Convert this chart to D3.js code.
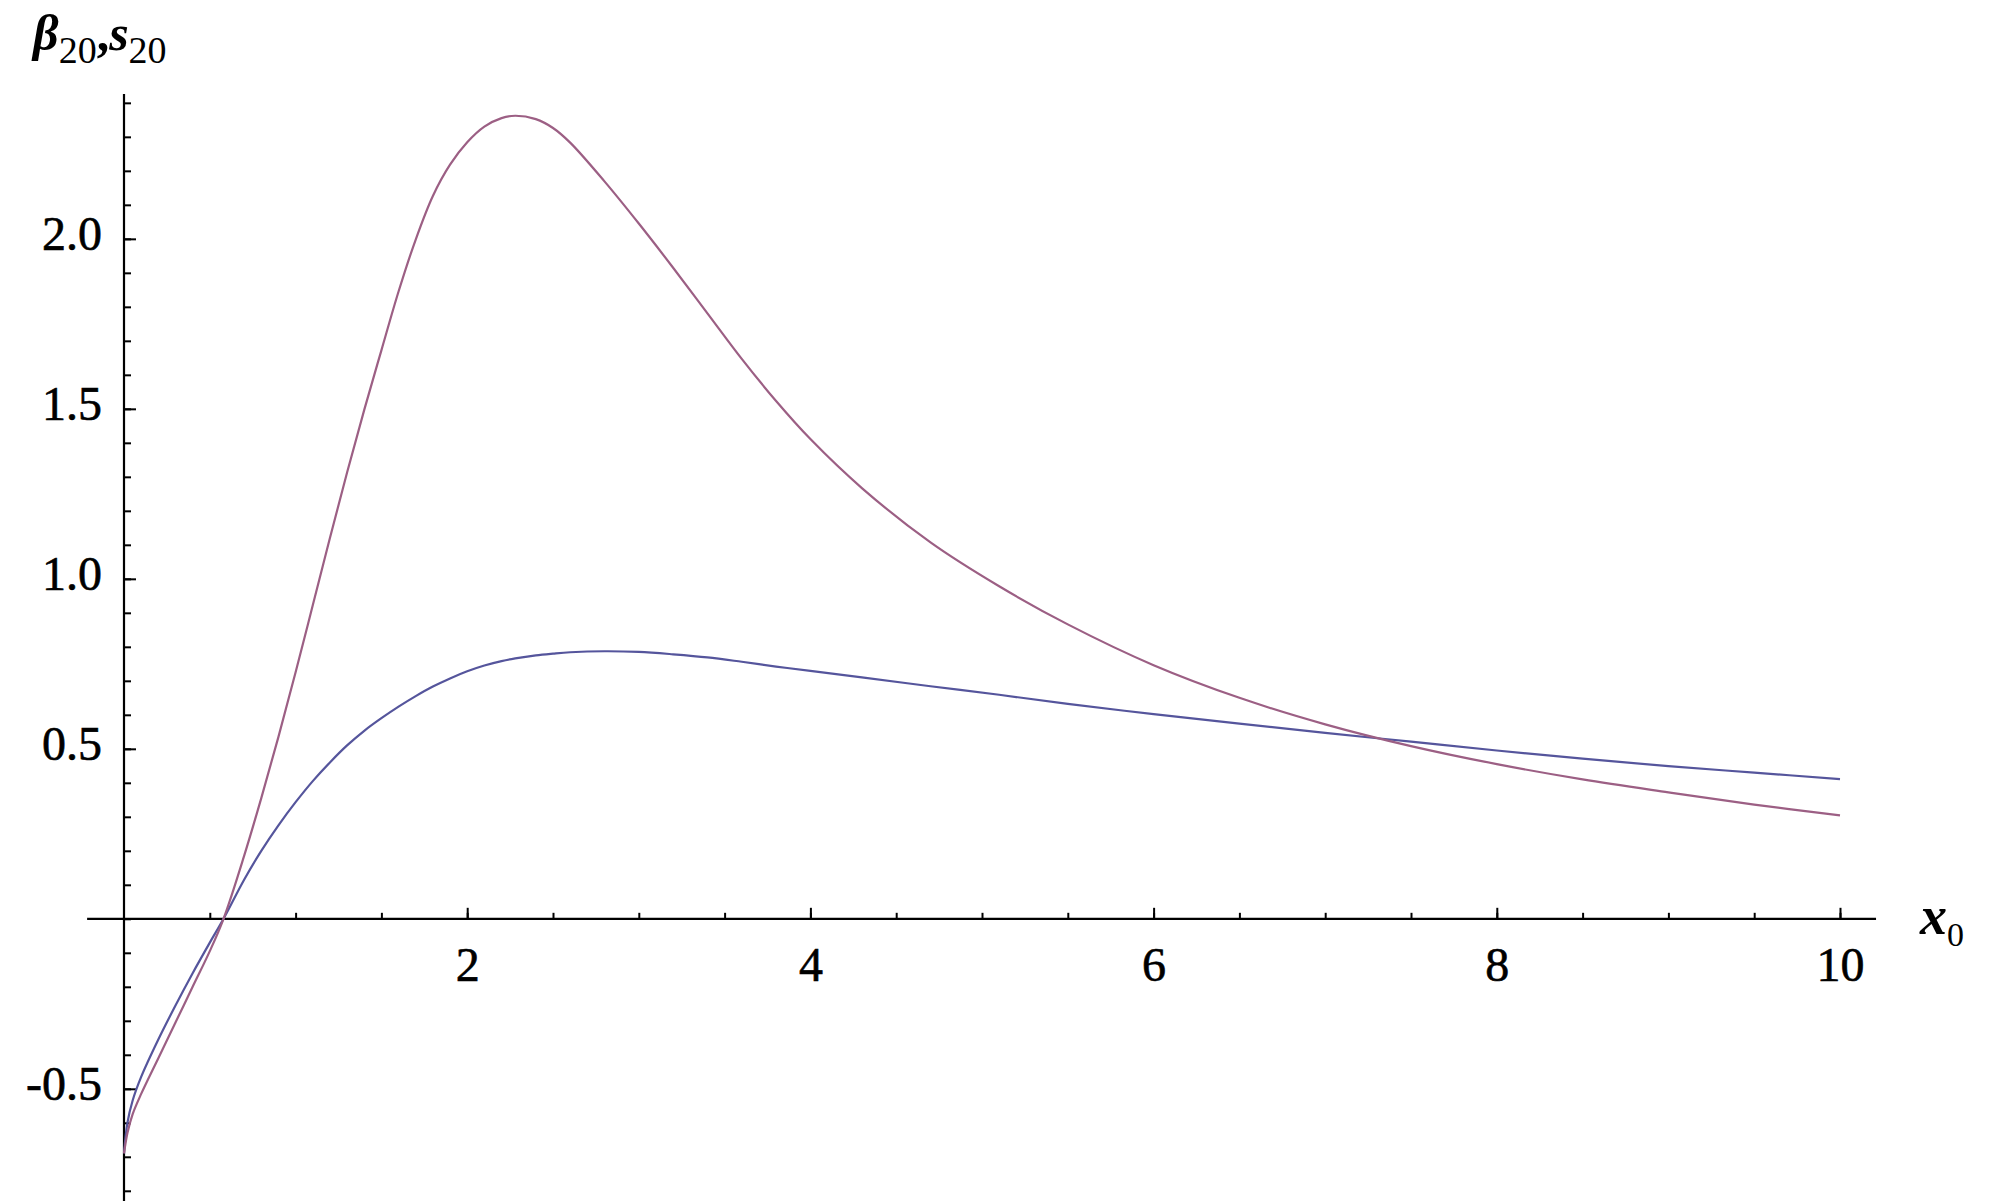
<!DOCTYPE html>
<html>
<head>
<meta charset="utf-8">
<script src="https://cdn.jsdelivr.net/npm/d3@7"></script>
<style>
  body { margin: 0; background: #fff; }
  svg { display: block; }
  text { font-family: "Liberation Serif", "Times New Roman", serif; fill: #000; }
</style>
</head>
<body>
<svg id="chart" width="2000" height="1201"></svg>
<script>
// x0 samples and the two curves
var xs = [0, 0.02, 0.05, 0.1, 0.2, 0.3, 0.4, 0.5, 0.58, 0.7, 0.8, 0.9, 1.0, 1.1, 1.2, 1.3, 1.4, 1.5, 1.6, 1.7, 1.8, 1.9, 2.0, 2.1, 2.2, 2.28, 2.4, 2.5, 2.6, 2.8, 3.0, 3.2, 3.4, 3.6, 3.8, 4.0, 4.3, 4.7, 5.1, 5.5, 6.0, 6.5, 7.0, 7.5, 8.0, 8.5, 9.0, 9.5, 10];
var s20 = [-0.69, -0.63, -0.575, -0.515, -0.41, -0.305, -0.2, -0.095, 0, 0.185, 0.355, 0.535, 0.725, 0.922, 1.12, 1.313, 1.497, 1.672, 1.845, 1.998, 2.126, 2.218, 2.284, 2.33, 2.355, 2.362, 2.352, 2.326, 2.283, 2.169, 2.045, 1.915, 1.781, 1.647, 1.523, 1.411, 1.267, 1.107, 0.978, 0.866, 0.746, 0.65, 0.572, 0.508, 0.455, 0.41, 0.372, 0.336, 0.304];
var beta20 = [-0.69, -0.6, -0.535, -0.465, -0.355, -0.255, -0.16, -0.07, 0, 0.115, 0.2, 0.275, 0.343, 0.405, 0.46, 0.51, 0.553, 0.59, 0.624, 0.655, 0.683, 0.707, 0.728, 0.745, 0.758, 0.766, 0.775, 0.78, 0.784, 0.787, 0.785, 0.778, 0.769, 0.756, 0.742, 0.729, 0.71, 0.684, 0.659, 0.632, 0.602, 0.574, 0.547, 0.521, 0.495, 0.471, 0.449, 0.43, 0.411];

var xMajor = [2, 4, 6, 8, 10];
var xMinor = d3.range(0.5, 10.01, 0.5);
var yMajor = [-0.5, 0.5, 1.0, 1.5, 2.0];
var yMinor = d3.range(-8, 25).map(d => d / 10);

var svg = d3.select("#chart");

var x = d3.scaleLinear().domain([0, 10]).range([124, 1840]);
var y = d3.scaleLinear().domain([-0.83, 2.426]).range([1201, 94]);

// axis lines
svg.append("line")
  .attr("x1", x(-0.215)).attr("x2", x(10.21))
  .attr("y1", y(0)).attr("y2", y(0))
  .attr("stroke", "#000").attr("stroke-width", 2.2);
svg.append("line")
  .attr("x1", x(0)).attr("x2", x(0))
  .attr("y1", y(2.426)).attr("y2", y(-0.83))
  .attr("stroke", "#000").attr("stroke-width", 2.2);

// x ticks (pointing up)
svg.append("g")
  .attr("transform", "translate(0," + y(0) + ")")
  .call(d3.axisBottom(x).tickValues(xMinor).tickSizeInner(-6).tickSizeOuter(0).tickFormat(""))
  .call(g => g.select(".domain").remove())
  .call(g => g.selectAll("line").attr("stroke-width", 2));

svg.append("g")
  .attr("transform", "translate(0," + y(0) + ")")
  .call(d3.axisBottom(x).tickValues(xMajor).tickSizeInner(-11).tickSizeOuter(0).tickPadding(28).tickFormat(d3.format("d")))
  .call(g => g.select(".domain").remove())
  .call(g => g.selectAll("line").attr("stroke-width", 2))
  .call(g => g.selectAll("text")
    .attr("font-family", "Liberation Serif")
    .attr("font-size", 48)
    .attr("fill", "#000")
    .attr("stroke", "#000")
    .attr("stroke-width", 0.6));

// y ticks (pointing right)
svg.append("g")
  .attr("transform", "translate(" + x(0) + ",0)")
  .call(d3.axisLeft(y).tickValues(yMinor).tickSizeInner(-7).tickSizeOuter(0).tickFormat(""))
  .call(g => g.select(".domain").remove())
  .call(g => g.selectAll("line").attr("stroke-width", 2));

svg.append("g")
  .attr("transform", "translate(" + x(0) + ",0)")
  .call(d3.axisLeft(y).tickValues(yMajor).tickSizeInner(-12).tickSizeOuter(0).tickPadding(22).tickFormat(d3.format(".1f")))
  .call(g => g.select(".domain").remove())
  .call(g => g.selectAll("line").attr("stroke-width", 2))
  .call(g => g.selectAll("text")
    .attr("font-family", "Liberation Serif")
    .attr("font-size", 48)
    .attr("fill", "#000")
    .attr("stroke", "#000")
    .attr("stroke-width", 0.6)
    .attr("dy", 11)
    .text(d => d < 0 ? "-" + d3.format(".1f")(-d) : d3.format(".1f")(d)));

// curves
var line = d3.line().curve(d3.curveCatmullRom.alpha(0.5));

svg.append("path")
  .attr("d", line(xs.map((d, i) => [x(d), y(beta20[i])])))
  .attr("fill", "none")
  .attr("stroke", "#55559c")
  .attr("stroke-width", 2.2);

svg.append("path")
  .attr("d", line(xs.map((d, i) => [x(d), y(s20[i])])))
  .attr("fill", "none")
  .attr("stroke", "#9c5f84")
  .attr("stroke-width", 2.2);

// axis titles
var t = svg.append("text").attr("x", 33).attr("y", 50);
t.append("tspan").attr("font-size", 50).attr("font-style", "italic").attr("font-weight", "bold").text("β");
t.append("tspan").attr("font-size", 38).attr("dy", 13).text("20");
t.append("tspan").attr("font-size", 50).attr("font-weight", "bold").attr("dy", -13).text(",");
t.append("tspan").attr("font-size", 50).attr("font-style", "italic").attr("font-weight", "bold").text("s");
t.append("tspan").attr("font-size", 38).attr("dy", 13).text("20");

var xl = svg.append("text").attr("x", 1920).attr("y", 934);
xl.append("tspan").attr("font-size", 54).attr("font-style", "italic").attr("font-weight", "bold").text("x");
xl.append("tspan").attr("font-size", 34).attr("dy", 12).text("0");
</script>
</body>
</html>
